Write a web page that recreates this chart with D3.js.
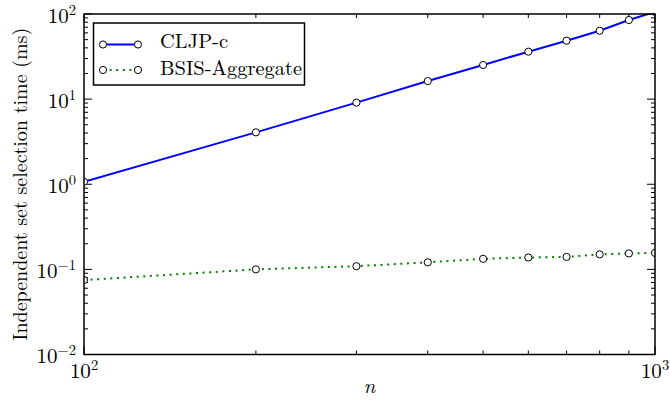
<!DOCTYPE html>
<html>
<head>
<meta charset="utf-8">
<script src="https://cdn.jsdelivr.net/npm/d3@7"></script>
<style>
  html, body { margin: 0; padding: 0; background: #fff; }
  svg { display: block; }
</style>
</head>
<body>
<svg id="chart" width="670" height="400"></svg>
<script>
// ---- data ----
const nValues = [100, 200, 300, 400, 500, 600, 700, 800, 900, 1000];
const cljpValues = [1.07, 4.07, 9.1, 16.3, 25.2, 36.1, 48.6, 63.6, 85.0, 106];
const bsisValues = [0.0748, 0.100, 0.109, 0.121, 0.133, 0.138, 0.140, 0.150, 0.154, 0.156];
const seriesNames = ["CLJP-c", "BSIS-Aggregate"];
const xMajorTicks = [100, 1000];
const xMajorExps = ["2", "3"];
const yMajorTicks = [0.01, 0.1, 1, 10, 100];
const yMajorExps = ["\u22122", "\u22121", "0", "1", "2"];
const xLabel = "n";
const yLabel = "Independent set selection time (ms)";

// ---- layout ----
const FONT = '"Latin Modern Roman"';
const L = 84, R = 655, T = 14, B = 354.5;
const svg = d3.select("#chart");

const x = d3.scaleLog().domain([100, 1000]).range([L, R]);
const y = d3.scaleLog().domain([0.01, 100]).range([B, T]);

function txt(sel) { return sel.append("text").style("font-family", FONT).attr("fill", "#000"); }

svg.append("defs").append("clipPath").attr("id", "clip")
  .append("rect").attr("x", L).attr("y", T).attr("width", R - L).attr("height", B - T);

// minor ticks
const xMinor = d3.range(200, 1000, 100);
const yMinor = [];
[0.01, 0.1, 1, 10].forEach(d => { for (let k = 2; k <= 9; k++) yMinor.push(d * k); });

const tickG = svg.append("g").attr("stroke", "#000").attr("stroke-width", 1);
const majL = 8, minL = 4;
xMajorTicks.forEach(v => {
  tickG.append("line").attr("x1", x(v)).attr("x2", x(v)).attr("y1", B).attr("y2", B - majL);
  tickG.append("line").attr("x1", x(v)).attr("x2", x(v)).attr("y1", T).attr("y2", T + majL);
});
xMinor.forEach(v => {
  tickG.append("line").attr("x1", x(v)).attr("x2", x(v)).attr("y1", B).attr("y2", B - minL);
  tickG.append("line").attr("x1", x(v)).attr("x2", x(v)).attr("y1", T).attr("y2", T + minL);
});
yMajorTicks.forEach(v => {
  tickG.append("line").attr("x1", L).attr("x2", L + majL).attr("y1", y(v)).attr("y2", y(v));
  tickG.append("line").attr("x1", R).attr("x2", R - majL).attr("y1", y(v)).attr("y2", y(v));
});
yMinor.forEach(v => {
  tickG.append("line").attr("x1", L).attr("x2", L + minL).attr("y1", y(v)).attr("y2", y(v));
  tickG.append("line").attr("x1", R).attr("x2", R - minL).attr("y1", y(v)).attr("y2", y(v));
});

// series
const plot = svg.append("g").attr("clip-path", "url(#clip)");
const line = d3.line().x((d, i) => x(nValues[i])).y(d => y(d));

plot.append("path").datum(bsisValues).attr("d", line)
  .attr("fill", "none").attr("stroke", "#008000").attr("stroke-width", 2)
  .attr("stroke-dasharray", "2,4.6");
plot.append("path").datum(cljpValues).attr("d", line)
  .attr("fill", "none").attr("stroke", "#0000ff").attr("stroke-width", 2);

[bsisValues, cljpValues].forEach(vals => {
  plot.selectAll(null).data(vals).enter().append("circle")
    .attr("cx", (d, i) => x(nValues[i])).attr("cy", d => y(d)).attr("r", 3.6)
    .attr("fill", "#fff").attr("stroke", "#000").attr("stroke-width", 1);
});

// frame
svg.append("rect").attr("x", L).attr("y", T).attr("width", R - L).attr("height", B - T)
  .attr("fill", "none").attr("stroke", "#000").attr("stroke-width", 1.5);

// tick labels
xMajorTicks.forEach((v, i) => {
  const t = txt(svg).attr("x", x(v)).attr("y", 378)
    .attr("text-anchor", "middle").attr("font-size", 21);
  t.append("tspan").text("10");
  t.append("tspan").attr("font-size", 14.5).attr("dy", -8).text(xMajorExps[i]);
});
yMajorTicks.forEach((v, i) => {
  const t = txt(svg).attr("x", 76).attr("y", y(v) + 8.5)
    .attr("text-anchor", "end").attr("font-size", 21);
  t.append("tspan").text("10");
  t.append("tspan").attr("font-size", 14.5).attr("dy", -8).text(yMajorExps[i]);
});

// axis labels
txt(svg).attr("x", (L + R) / 2).attr("y", 393).attr("text-anchor", "middle")
  .attr("font-size", 21).style("font-style", "italic").text(xLabel);
txt(svg).attr("transform", `translate(27,${(T + B) / 2}) rotate(-90)`)
  .attr("text-anchor", "middle").attr("font-size", 20).text(yLabel);

// legend
const lg = svg.append("g");
lg.append("rect").attr("x", 93.5).attr("y", 23).attr("width", 211).attr("height", 62)
  .attr("fill", "#fff").attr("stroke", "#000").attr("stroke-width", 1.5);
const legendStyles = [
  { color: "#0000ff", dash: null },
  { color: "#008000", dash: "2,4.6" }
];
const legendRows = [44.5, 70];
const legendBase = [48, 74.5];
seriesNames.forEach((name, i) => {
  const yy = legendRows[i];
  lg.append("line").attr("x1", 103).attr("x2", 138).attr("y1", yy).attr("y2", yy)
    .attr("stroke", legendStyles[i].color).attr("stroke-width", 2)
    .attr("stroke-dasharray", legendStyles[i].dash);
  [103, 138].forEach(cx => lg.append("circle").attr("cx", cx).attr("cy", yy).attr("r", 3.6)
    .attr("fill", "#fff").attr("stroke", "#000").attr("stroke-width", 1));
  txt(lg).attr("x", 160).attr("y", legendBase[i]).attr("font-size", 20.5).text(name);
});
</script>
</body>
</html>
